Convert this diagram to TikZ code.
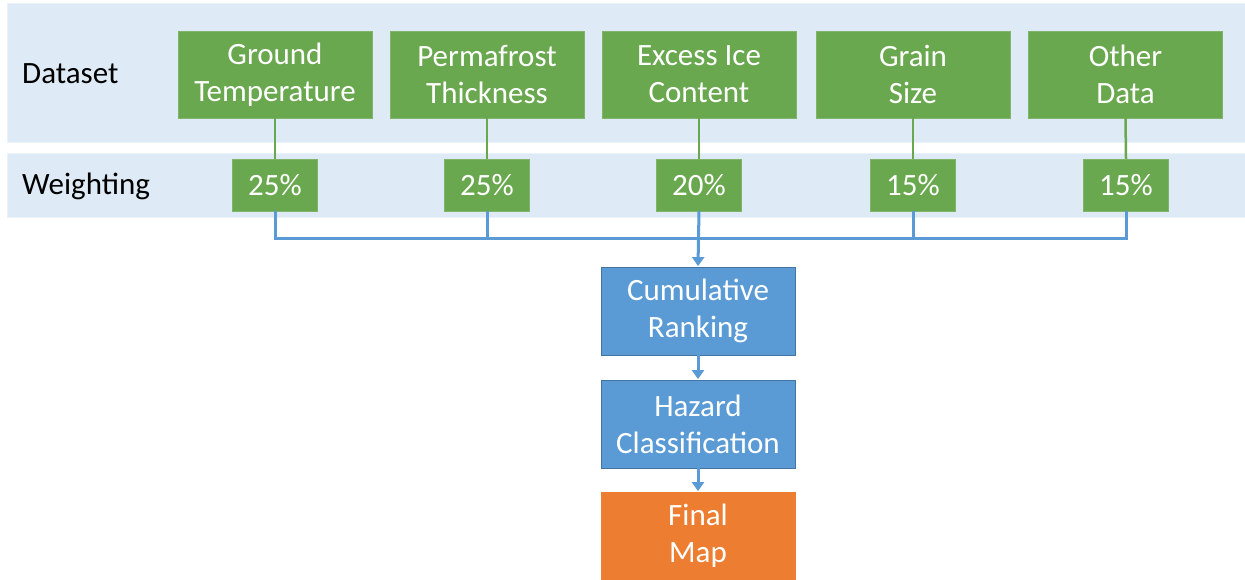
\documentclass[tikz,border=0pt]{standalone}
\usepackage{fontspec}
\setmainfont{Carlito}
\usetikzlibrary{arrows.meta}

\definecolor{bandblue}{HTML}{DEEBF7}
\definecolor{boxgreen}{HTML}{6AA84F}
\definecolor{boxblue}{HTML}{5B9BD5}
\definecolor{lineblue}{HTML}{5B9BD5}
\definecolor{boxorange}{HTML}{ED7D31}

\tikzset{
    band/.style={fill=bandblue, draw=bandblue!60!white, line width=1pt},
    rowlabel/.style={anchor=west, inner sep=0pt, font=\fontsize{31}{37}\selectfont},
    databox/.style={fill=boxgreen, draw=boxgreen!85!white, text=white, align=center,
        minimum width=194pt, minimum height=87pt, inner sep=0pt,
        font=\fontsize{31}{37}\selectfont},
    weightbox/.style={fill=boxgreen, draw=boxgreen!85!white, text=white,
        minimum width=85pt, minimum height=52pt, inner sep=0pt,
        font=\fontsize{31}{37}\selectfont},
    stepbox/.style={fill=boxblue, draw=boxblue!75!black, line width=0.8pt, text=white, align=center,
        minimum width=194pt, minimum height=88pt, inner sep=0pt,
        font=\fontsize{31}{37}\selectfont},
    greenlink/.style={draw=boxgreen, line width=2.5pt},
    bluelink/.style={draw=lineblue, line width=3pt},
    flowarrow/.style={bluelink, -{Triangle[width=12pt,length=9pt]}, shorten >=0.5pt}
}

\begin{document}
\begin{tikzpicture}[x=1pt, y=-1pt]
    \useasboundingbox (0,0) rectangle (1245,579);
    \clip (0,0) rectangle (1245,579);

    % bands
    \fill[band] (7,3) rectangle (1250,142);
    \fill[band] (7,153) rectangle (1250,217);
    \node[rowlabel] (dlabel) at (22,74) {Dataset};
    \node[rowlabel] (wlabel) at (22,186) {Weighting};

    % dataset
    \node[databox] (d1) at (275,74.5) {Ground\\Temperature};
    \node[databox] (d2) at (487,74.5) {Permafrost\\Thickness};
    \node[databox] (d3) at (699,74.5) {Excess Ice\\Content};
    \node[databox] (d4) at (913,74.5) {Grain\\Size};
    \node[databox] (d5) at (1125.5,74.5) {Other\\Data};

    % weighting
    \node[weightbox] (w1) at (275,185) {25\%};
    \node[weightbox] (w2) at (487,185) {25\%};
    \node[weightbox] (w3) at (699,185) {20\%};
    \node[weightbox] (w4) at (913,185) {15\%};
    \node[weightbox] (w5) at (1126,185) {15\%};

    \foreach \i in {1,...,5}
        \draw[greenlink] (d\i.south) -- (w\i.north);

    % steps
    \node[stepbox] (rank) at (698,311) {Cumulative\\Ranking};
    \node[stepbox] (hazard) at (698,424) {Hazard\\Classification};
    \node[stepbox, fill=boxorange, draw=boxorange] (final) at (698,536) {Final\\Map};

    \coordinate (bus) at (698,238);
    \draw[bluelink] (w1.south) |- (bus) -| (w5.south);
    \draw[bluelink] (w2.south) -- (w2.south |- bus);
    \draw[bluelink] (w4.south) -- (w4.south |- bus);
    \draw[flowarrow] (w3.south) -- (rank.north);
    \draw[flowarrow] (rank.south) -- (hazard.north);
    \draw[flowarrow] (hazard.south) -- (final.north);
\end{tikzpicture}
\end{document}
